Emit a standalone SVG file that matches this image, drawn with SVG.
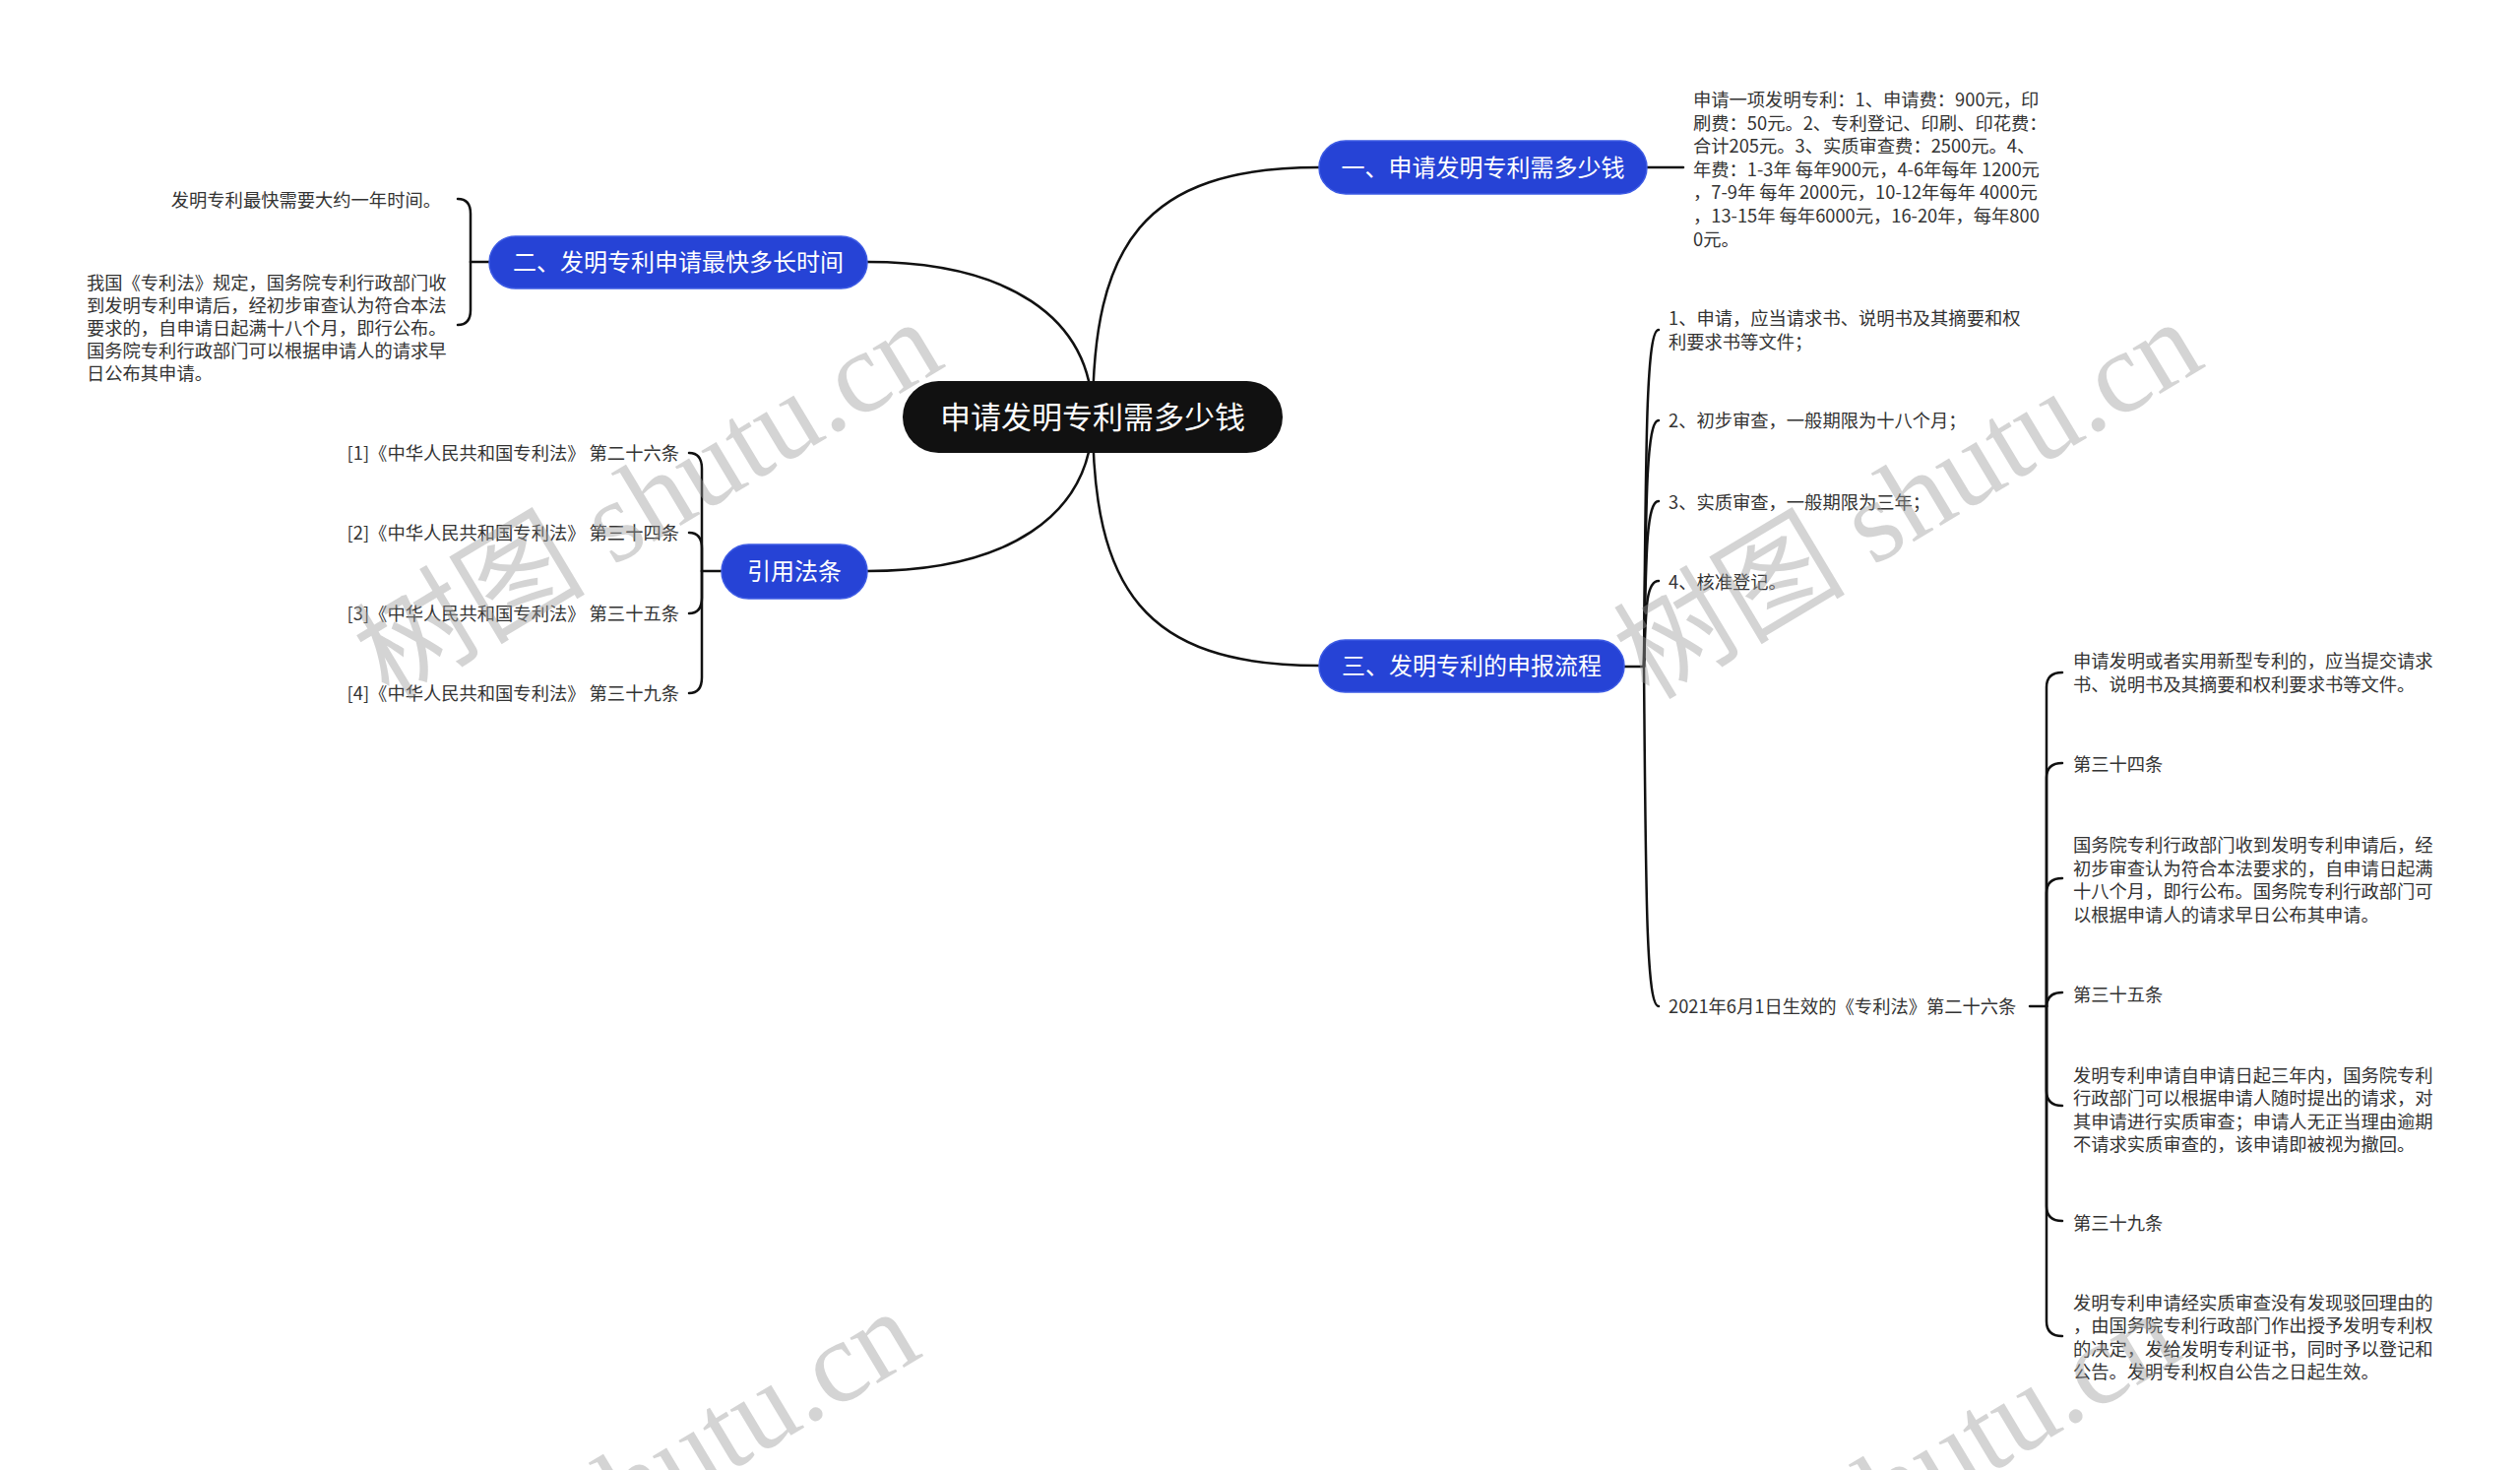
<svg xmlns="http://www.w3.org/2000/svg" width="2560" height="1493" viewBox="0 0 2560 1493">
<style>
.bg{fill:#ffffff}
.root{fill:#111111}
.main{fill:#2643d6;stroke:#3d5be4;stroke-width:1.5}
.rt{font-family:"Noto Sans CJK SC","Noto Sans",sans-serif;font-size:31px;fill:#ffffff;text-anchor:middle}
.mt{font-family:"Noto Sans CJK SC","Noto Sans",sans-serif;font-size:24px;fill:#ffffff;text-anchor:middle}
.lt{font-family:"Noto Sans CJK SC","Noto Sans",sans-serif;font-size:18.3px;fill:#333333}
.end{text-anchor:end}
.c{fill:none;stroke:#111111;stroke-width:2.5;stroke-linecap:round}
.wm{font-family:"Liberation Serif","Noto Sans CJK SC",serif;font-size:118px;fill:#9a9a9a;opacity:0.42}
</style>
<rect class="bg" x="0" y="0" width="2560" height="1493"/>

<g id="connectors">
  <path class="c" d="M1110,423 C1110,250 1160,170 1340,170"/>
  <path class="c" d="M1110,423 C1110,596 1160,676 1340,676"/>
  <path class="c" d="M1110,423 C1110,320 1020,266 881,266"/>
  <path class="c" d="M1110,423 C1110,526 1020,580 881,580"/>
  <path class="c" d="M1673,170 L1710,170"/>
  <path class="c" d="M497,266 L478,266"/>
  <path class="c" d="M478,266 L478,217 Q478,202 465,202"/>
  <path class="c" d="M478,266 L478,315 Q478,330 465,330"/>
  <path class="c" d="M733,580 L713,580"/>
  <path class="c" d="M713,580 L713,476 Q713,460 700,460"/>
  <path class="c" d="M713,580 L713,557 Q713,541 700,541"/>
  <path class="c" d="M713,580 L713,607 Q713,623 700,623"/>
  <path class="c" d="M713,580 L713,688 Q713,704 700,704"/>
  <path class="c" d="M1650,677 L1670,677"/>
  <path class="c" d="M1670,677 C1672,455 1672,335 1685,335"/>
  <path class="c" d="M1670,677 C1672,514 1672,427 1685,427"/>
  <path class="c" d="M1670,677 C1672,567 1672,509 1685,509"/>
  <path class="c" d="M1670,677 C1672,618 1672,590 1685,590"/>
  <path class="c" d="M1670,677 C1672,901 1672,1022 1685,1022"/>
  <path class="c" d="M2062,1022 L2079,1022"/>
  <path class="c" d="M2079,1022 L2079,698 Q2079,683 2095,683"/>
  <path class="c" d="M2079,1022 L2079,790 Q2079,775 2095,775"/>
  <path class="c" d="M2079,1022 L2079,907 Q2079,892 2095,892"/>
  <path class="c" d="M2079,1022 L2079,1023 Q2079,1008 2095,1008"/>
  <path class="c" d="M2079,1022 L2079,1108 Q2079,1123 2095,1123"/>
  <path class="c" d="M2079,1022 L2079,1225 Q2079,1240 2095,1240"/>
  <path class="c" d="M2079,1022 L2079,1342 Q2079,1357 2095,1357"/>
</g>

<g id="root">
  <rect class="root" x="917" y="387" width="386" height="73" rx="36.5"/>
  <text class="rt" x="1110" y="435">申请发明专利需多少钱</text>
</g>

<g id="b1">
  <rect class="main" x="1340" y="143" width="333" height="54" rx="27"/>
  <text class="mt" x="1506.5" y="178.5">一、申请发明专利需多少钱</text>
</g>
<g id="b1-leaf">
  <text class="lt" x="1720" y="108">申请一项发明专利：1、申请费：900元，印</text>
  <text class="lt" x="1720" y="131.6">刷费：50元。2、专利登记、印刷、印花费：</text>
  <text class="lt" x="1720" y="155.2">合计205元。3、实质审查费：2500元。4、</text>
  <text class="lt" x="1720" y="178.8">年费：1-3年 每年900元，4-6年每年 1200元</text>
  <text class="lt" x="1720" y="202.4">，7-9年 每年 2000元，10-12年每年 4000元</text>
  <text class="lt" x="1720" y="226">，13-15年 每年6000元，16-20年，每年800</text>
  <text class="lt" x="1720" y="249.6">0元。</text>
</g>

<g id="b2">
  <rect class="main" x="497" y="240" width="384" height="53" rx="26.5"/>
  <text class="mt" x="689" y="274.5">二、发明专利申请最快多长时间</text>
</g>
<g id="b2-leaf1">
  <text class="lt end" x="448" y="209.5">发明专利最快需要大约一年时间。</text>
</g>
<g id="b2-leaf2">
  <text class="lt" x="88" y="293.5">我国《专利法》规定，国务院专利行政部门收</text>
  <text class="lt" x="88" y="316.5">到发明专利申请后，经初步审查认为符合本法</text>
  <text class="lt" x="88" y="339.5">要求的，自申请日起满十八个月，即行公布。</text>
  <text class="lt" x="88" y="362.5">国务院专利行政部门可以根据申请人的请求早</text>
  <text class="lt" x="88" y="385.5">日公布其申请。</text>
</g>

<g id="b4">
  <rect class="main" x="733" y="553" width="148" height="55" rx="27.5"/>
  <text class="mt" x="807" y="588.5">引用法条</text>
</g>
<g id="b4-leaf1"><text class="lt end" x="690" y="466.5">[1]《中华人民共和国专利法》 第二十六条</text></g>
<g id="b4-leaf2"><text class="lt end" x="690" y="548">[2]《中华人民共和国专利法》 第三十四条</text></g>
<g id="b4-leaf3"><text class="lt end" x="690" y="629.5">[3]《中华人民共和国专利法》 第三十五条</text></g>
<g id="b4-leaf4"><text class="lt end" x="690" y="711">[4]《中华人民共和国专利法》 第三十九条</text></g>

<g id="b3">
  <rect class="main" x="1340" y="650" width="310" height="53" rx="26.5"/>
  <text class="mt" x="1495" y="685">三、发明专利的申报流程</text>
</g>
<g id="b3-leaf1">
  <text class="lt" x="1695" y="330">1、申请，应当请求书、说明书及其摘要和权</text>
  <text class="lt" x="1695" y="353.5">利要求书等文件；</text>
</g>
<g id="b3-leaf2"><text class="lt" x="1695" y="434">2、初步审查，一般期限为十八个月；</text></g>
<g id="b3-leaf3"><text class="lt" x="1695" y="516.5">3、实质审查，一般期限为三年；</text></g>
<g id="b3-leaf4"><text class="lt" x="1695" y="598">4、核准登记。</text></g>
<g id="b3-leaf5"><text class="lt" x="1695" y="1028.5">2021年6月1日生效的《专利法》第二十六条</text></g>

<g id="s1">
  <text class="lt" x="2106" y="678">申请发明或者实用新型专利的，应当提交请求</text>
  <text class="lt" x="2106" y="701.5">书、说明书及其摘要和权利要求书等文件。</text>
</g>
<g id="s2"><text class="lt" x="2106" y="782.5">第三十四条</text></g>
<g id="s3">
  <text class="lt" x="2106" y="865">国务院专利行政部门收到发明专利申请后，经</text>
  <text class="lt" x="2106" y="888.5">初步审查认为符合本法要求的，自申请日起满</text>
  <text class="lt" x="2106" y="912">十八个月，即行公布。国务院专利行政部门可</text>
  <text class="lt" x="2106" y="935.5">以根据申请人的请求早日公布其申请。</text>
</g>
<g id="s4"><text class="lt" x="2106" y="1016.5">第三十五条</text></g>
<g id="s5">
  <text class="lt" x="2106" y="1098.5">发明专利申请自申请日起三年内，国务院专利</text>
  <text class="lt" x="2106" y="1122">行政部门可以根据申请人随时提出的请求，对</text>
  <text class="lt" x="2106" y="1145.5">其申请进行实质审查；申请人无正当理由逾期</text>
  <text class="lt" x="2106" y="1169">不请求实质审查的，该申请即被视为撤回。</text>
</g>
<g id="s6"><text class="lt" x="2106" y="1249">第三十九条</text></g>
<g id="s7">
  <text class="lt" x="2106" y="1329.5">发明专利申请经实质审查没有发现驳回理由的</text>
  <text class="lt" x="2106" y="1353">，由国务院专利行政部门作出授予发明专利权</text>
  <text class="lt" x="2106" y="1376.5">的决定，发给发明专利证书，同时予以登记和</text>
  <text class="lt" x="2106" y="1400">公告。发明专利权自公告之日起生效。</text>
</g>

<g id="watermarks">
  <text class="wm" transform="translate(395,712) rotate(-31)">树图 shutu.cn</text>
  <text class="wm" transform="translate(1675,712) rotate(-31)">树图 shutu.cn</text>
  <text class="wm" transform="translate(372,1717) rotate(-31)">树图 shutu.cn</text>
  <text class="wm" transform="translate(1652,1719) rotate(-31)">树图 shutu.cn</text>
</g>
</svg>
